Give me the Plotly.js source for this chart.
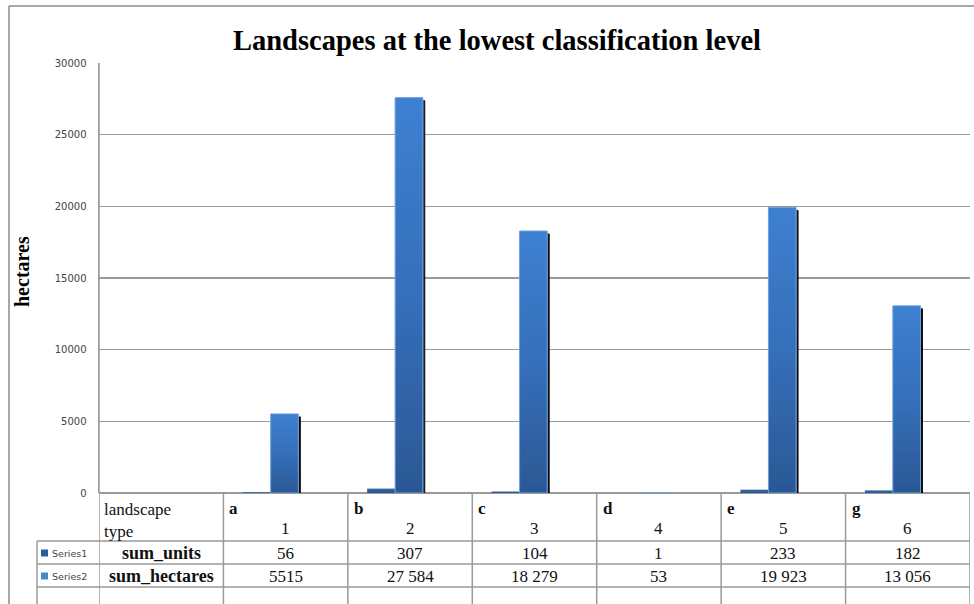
<!DOCTYPE html>
<html>
<head>
<meta charset="utf-8">
<script src="https://cdn.plot.ly/plotly-3.0.1.min.js"></script>
<style>
  html, body { margin: 0; padding: 0; background: #fff; }
  #chart { width: 974px; height: 604px; }
</style>
</head>
<body>
<div id="chart"></div>
<script>
// ---------- data ----------
const categories = ['landscape type', 'a', 'b', 'c', 'd', 'e', 'g'];
const categoryNumbers = ['', '1', '2', '3', '4', '5', '6'];
const seriesNames = ['Series1', 'Series2'];
const rowLabels = ['sum_units', 'sum_hectares'];
const sumUnits = [null, 56, 307, 104, 1, 233, 182];
const sumHectares = [null, 5515, 27584, 18279, 53, 19923, 13056];
const sumUnitsText = ['56', '307', '104', '1', '233', '182'];
const sumHectaresText = ['5515', '27 584', '18 279', '53', '19 923', '13 056'];
const yTicks = [0, 5000, 10000, 15000, 20000, 25000, 30000];

// ---------- geometry helpers (pixel -> paper) ----------
const L = 99, R = 970, T = 63, B = 493;
const px = x => (x - L) / (R - L);
const py = y => (B - y) / (B - T);

const gridCol = '#9a9a9a';
const serif = 'Liberation Serif';
const sans = 'DejaVu Sans';

const traces = [
  {
    type: 'bar', name: seriesNames[0], x: categories, y: sumUnits,
    offset: -0.345, width: 0.225,
    marker: { color: '#2d5c9c', line: { width: 0 } },
    hoverinfo: 'skip'
  },
  {
    type: 'bar', name: seriesNames[1], x: categories, y: sumHectares,
    offset: -0.12, width: 0.222,
    marker: { color: '#3670b8', line: { color: '#6d9ee0', width: 1 } },
    hoverinfo: 'skip'
  }
];

const shapes = [];
const annotations = [];
const nCat = categories.length;

// outer frame (top + left)
shapes.push({ type: 'line', xref: 'paper', yref: 'paper', x0: px(9), x1: px(974), y0: py(6), y1: py(6), line: { color: '#8a8a8a', width: 1.5 } });
shapes.push({ type: 'line', xref: 'paper', yref: 'paper', x0: px(9), x1: px(9), y0: py(6), y1: py(606), line: { color: '#8a8a8a', width: 1.5 } });

// data table lines
const rowY = [541, 564, 587];
const tableBottom = 606;
rowY.forEach(y => {
  shapes.push({ type: 'line', xref: 'paper', yref: 'paper', x0: px(37), x1: 1, y0: py(y), y1: py(y), line: { color: gridCol, width: 1.5 } });
});
shapes.push({ type: 'line', xref: 'paper', yref: 'paper', x0: px(37), x1: px(37), y0: py(541), y1: py(tableBottom), line: { color: gridCol, width: 1.5 } });
for (let i = 0; i <= nCat; i++) {
  shapes.push({ type: 'line', xref: 'x', yref: 'paper', x0: i - 0.5, x1: i - 0.5, y0: i === 0 ? 1 : 0, y1: py(tableBottom), line: { color: gridCol, width: 1.5 } });
}

// header cells
annotations.push({ xref: 'x', yref: 'paper', x: -0.5, xshift: 3, y: py(520), xanchor: 'left', yanchor: 'middle', align: 'left', showarrow: false,
  text: categories[0].replace(' ', '<br>'), font: { family: serif, size: 17, color: '#111' } });
for (let i = 1; i < nCat; i++) {
  annotations.push({ xref: 'x', yref: 'paper', x: i - 0.5, xshift: 4, y: py(509), xanchor: 'left', yanchor: 'middle', showarrow: false,
    text: categories[i], font: { family: serif, size: 17, color: '#111', weight: 'bold' } });
  annotations.push({ xref: 'x', yref: 'paper', x: i, y: py(528), xanchor: 'center', yanchor: 'middle', showarrow: false,
    text: categoryNumbers[i], font: { family: serif, size: 17, color: '#111' } });
}

// series rows
const rowCenters = [553, 576];
const rowTexts = [sumUnitsText, sumHectaresText];
const legendColors = ['#2d5c9c', '#4a86cc'];
for (let r = 0; r < 2; r++) {
  const yc = rowCenters[r];
  shapes.push({ type: 'rect', xref: 'paper', yref: 'paper', x0: px(41), x1: px(48), y0: py(yc - 3.5), y1: py(yc + 3.5), line: { width: 0 }, fillcolor: legendColors[r] });
  annotations.push({ xref: 'paper', yref: 'paper', x: px(49.5), y: py(yc), xanchor: 'left', yanchor: 'middle', showarrow: false,
    text: seriesNames[r], font: { family: sans, size: 9.5, color: '#444' } });
  annotations.push({ xref: 'x', yref: 'paper', x: 0, y: py(yc), xanchor: 'center', yanchor: 'middle', showarrow: false,
    text: rowLabels[r], font: { family: serif, size: 18, color: '#111', weight: 'bold' } });
  for (let i = 1; i < nCat; i++) {
    annotations.push({ xref: 'x', yref: 'paper', x: i, y: py(yc), xanchor: 'center', yanchor: 'middle', showarrow: false,
      text: rowTexts[r][i - 1], font: { family: serif, size: 17, color: '#111' } });
  }
}

// y-axis title
annotations.push({ xref: 'paper', yref: 'paper', x: px(22), y: py(272), xanchor: 'center', yanchor: 'middle', showarrow: false,
  textangle: -90, text: 'hectares', font: { family: 'Liberation Serif', size: 20, color: '#000', weight: 'bold' } });

const layout = {
  width: 974, height: 604,
  margin: { l: L, r: 974 - R, t: T, b: 604 - B, pad: 0 },
  paper_bgcolor: '#ffffff', plot_bgcolor: '#ffffff',
  showlegend: false,
  barmode: 'overlay',
  title: {
    text: 'Landscapes at the lowest classification level',
    xref: 'container', yref: 'container', x: 497 / 974, y: 1 - 40 / 604, xanchor: 'center', yanchor: 'middle',
    font: { family: 'Liberation Serif', size: 28.5, color: '#000', weight: 'bold' }
  },
  xaxis: {
    type: 'category', range: [-0.5, nCat - 0.5], showticklabels: false, showgrid: false,
    zeroline: false, showline: false, ticks: '', fixedrange: true
  },
  yaxis: {
    range: [0, 30000], tickvals: yTicks, ticktext: yTicks.map(String),
    showgrid: true, gridcolor: gridCol, gridwidth: 1.5,
    zeroline: true, zerolinecolor: gridCol, zerolinewidth: 1.5,
    showline: true, linecolor: gridCol, linewidth: 1.5,
    ticks: 'outside', ticklen: 9, tickcolor: 'rgba(0,0,0,0)',
    tickfont: { family: sans, size: 10, color: '#444' }, fixedrange: true
  },
  shapes: shapes,
  annotations: annotations
};

Plotly.newPlot('chart', traces, layout, { staticPlot: true, displayModeBar: false }).then(gd => {
  const svg = gd.querySelector('svg.main-svg');
  const NS = 'http://www.w3.org/2000/svg';
  let defs = svg.querySelector('defs');
  if (!defs) { defs = document.createElementNS(NS, 'defs'); svg.insertBefore(defs, svg.firstChild); }
  const mkGrad = (id, stops) => {
    const g = document.createElementNS(NS, 'linearGradient');
    g.setAttribute('id', id);
    g.setAttribute('x1', '0'); g.setAttribute('y1', '0'); g.setAttribute('x2', '0'); g.setAttribute('y2', '1');
    stops.forEach(([o, c]) => {
      const s = document.createElementNS(NS, 'stop'); s.setAttribute('offset', o); s.setAttribute('stop-color', c); g.appendChild(s);
    });
    defs.appendChild(g);
  };
  mkGrad('barGrad2', [['0', '#3e80d1'], ['0.5', '#356fba'], ['1', '#2b5894']]);
  mkGrad('barGrad1', [['0', '#3366a8'], ['1', '#2a5690']]);
  const filt = document.createElementNS(NS, 'filter');
  filt.setAttribute('id', 'barShadow');
  filt.setAttribute('x', '-0.3'); filt.setAttribute('y', '-0.3'); filt.setAttribute('width', '1.6'); filt.setAttribute('height', '1.6');
  const ds = document.createElementNS(NS, 'feDropShadow');
  ds.setAttribute('dx', '2'); ds.setAttribute('dy', '3'); ds.setAttribute('stdDeviation', '0.3');
  ds.setAttribute('flood-color', '#000'); ds.setAttribute('flood-opacity', '0.95');
  filt.appendChild(ds);
  defs.appendChild(filt);
  const groups = gd.querySelectorAll('g.trace.bars');
  if (groups[0]) groups[0].querySelectorAll('path').forEach(p => { p.style.fill = 'url(#barGrad1)'; });
  if (groups[1]) groups[1].querySelectorAll('path').forEach(p => {
    p.style.fill = 'url(#barGrad2)';
    p.setAttribute('filter', 'url(#barShadow)');
  });
});
</script>
</body>
</html>
